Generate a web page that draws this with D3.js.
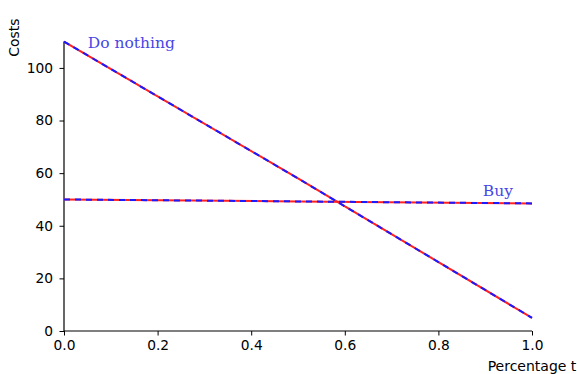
<!DOCTYPE html>
<html>
<head>
<meta charset="utf-8">
<script src="https://cdn.jsdelivr.net/npm/d3@7"></script>
<style>
  body { margin: 0; background: #fff; }
  svg { display: block; }
  .tick text { font-family: "DejaVu Sans", sans-serif; font-size: 13.8px; fill: #000; }
</style>
</head>
<body>
<div id="chart"></div>
<script>
// Data
const tValues = [0, 0.5, 1]
const doNothing = [110, 58, 5]
const buy = [50, 49.25, 48.5]
const xTicks = [0, 0.2, 0.4, 0.6, 0.8, 1.0]
const yTicks = [0, 20, 40, 60, 80, 100]
const labels = [
  { text: 'Do nothing', t: 0.051, v: 107.5 },
  { text: 'Buy', t: 0.895, v: 51.3 },
]

const width = 577
const height = 374
const margin = { top: 41.6, right: 45, bottom: 43, left: 64 }
const innerW = width - margin.left - margin.right
const innerH = height - margin.top - margin.bottom

const svg = d3
  .select('#chart')
  .append('svg')
  .attr('width', width)
  .attr('height', height)

const g = svg.append('g').attr('transform', `translate(${margin.left},${margin.top})`)

const x = d3.scaleLinear().domain([0, 1]).range([0, innerW])
const y = d3.scaleLinear().domain([0, 110]).range([innerH, 0])

// Axes (left and bottom spines only)
const xAxis = g
  .append('g')
  .attr('transform', `translate(0,${innerH})`)
  .call(d3.axisBottom(x).tickValues(xTicks).tickFormat(d3.format('.1f')).tickSize(4.5).tickPadding(5))
const yAxis = g
  .append('g')
  .call(d3.axisLeft(y).tickValues(yTicks).tickSize(4.5).tickPadding(6.5))

;[xAxis, yAxis].forEach(a => {
  a.select('.domain').attr('stroke', '#000').attr('stroke-width', 1.2)
  a.selectAll('.tick line').attr('stroke', '#000')
})
xAxis.select('.domain').attr('d', `M0,0H${innerW}`)
yAxis.select('.domain').attr('d', `M0,0V${innerH}`)

// Axis labels at the axis ends
svg
  .append('text')
  .attr('transform', `translate(19,${margin.top - 4}) rotate(-90)`)
  .attr('text-anchor', 'middle')
  .style('font-family', '"DejaVu Sans", sans-serif')
  .style('font-size', '14px')
  .text('Costs')

svg
  .append('text')
  .attr('x', margin.left + innerW)
  .attr('y', 371)
  .attr('text-anchor', 'middle')
  .style('font-family', '"DejaVu Sans", sans-serif')
  .style('font-size', '14px')
  .text('Percentage t')

// Lines: red solid under blue dashed
const series = [doNothing, buy]
const line = d3
  .line()
  .x((d, i) => x(tValues[i]))
  .y(d => y(d))

series.forEach(s => {
  g.append('path')
    .datum(s)
    .attr('fill', 'none')
    .attr('stroke', '#ff2020')
    .attr('stroke-width', 2)
    .attr('d', line)
  g.append('path')
    .datum(s)
    .attr('fill', 'none')
    .attr('stroke', '#1a1aff')
    .attr('stroke-width', 2)
    .attr('stroke-dasharray', '6,5')
    .attr('d', line)
})

// Annotations
g.selectAll('.annot')
  .data(labels)
  .enter()
  .append('text')
  .attr('class', 'annot')
  .attr('x', d => x(d.t))
  .attr('y', d => y(d.v))
  .style('font-family', '"DejaVu Serif", serif')
  .style('font-size', '15.5px')
  .style('fill', '#4646e6')
  .text(d => d.text)
</script>
</body>
</html>
